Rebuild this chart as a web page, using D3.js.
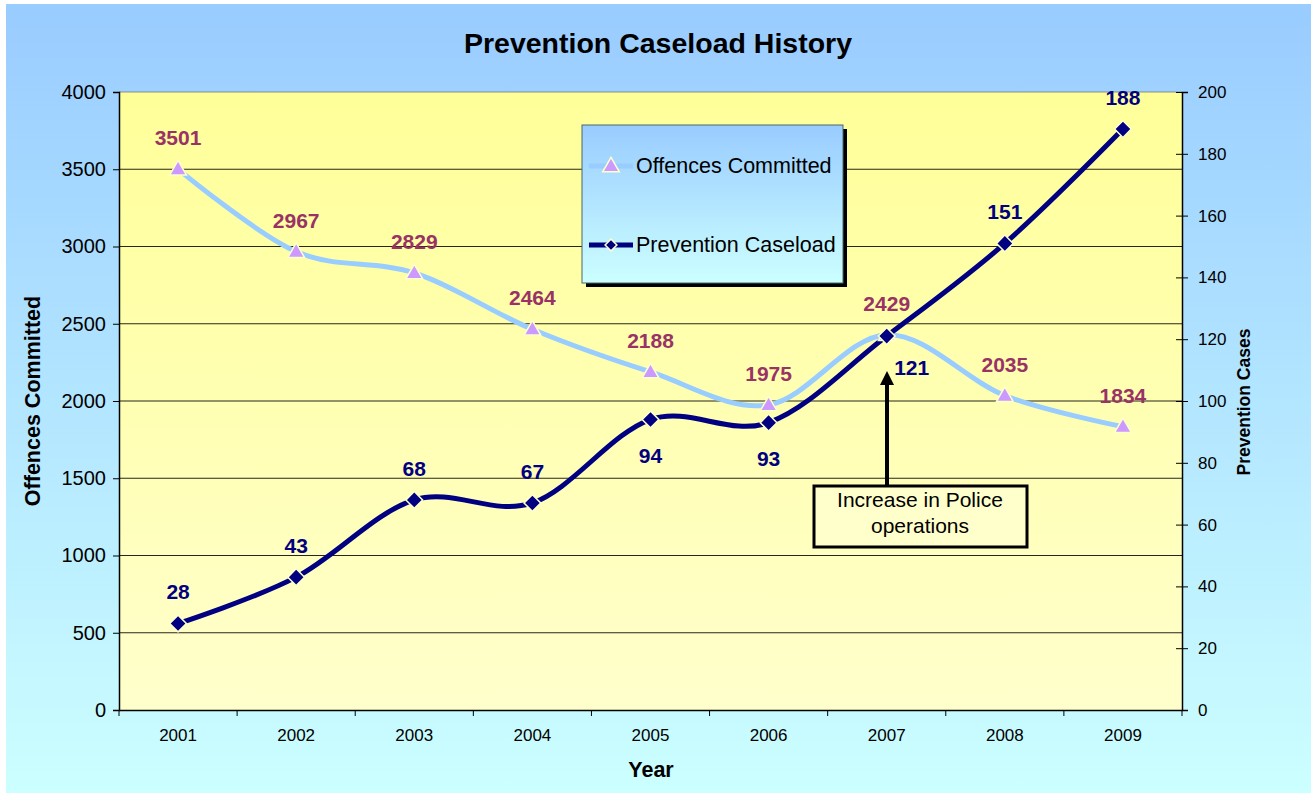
<!DOCTYPE html>
<html>
<head>
<meta charset="utf-8">
<script src="https://cdn.jsdelivr.net/npm/d3@7"></script>
<style>
  body { margin: 0; background: #fff; }
  text { font-family: "Liberation Sans", Arial, sans-serif; }
</style>
</head>
<body>
<div id="chart"></div>
<script>
var years = ["2001", "2002", "2003", "2004", "2005", "2006", "2007", "2008", "2009"];
var offences = [3501, 2967, 2829, 2464, 2188, 1975, 2429, 2035, 1834];
var caseload = [28, 43, 68, 67, 94, 93, 121, 151, 188];
var leftTicks = [0, 500, 1000, 1500, 2000, 2500, 3000, 3500, 4000];
var rightTicks = [0, 20, 40, 60, 80, 100, 120, 140, 160, 180, 200];

var width = 1311;
var height = 793;
var plot = { left: 119, right: 1182, top: 92, bottom: 710 };
var font = "Liberation Sans, Arial, sans-serif";

var svg = d3.select("#chart")
    .append("svg")
    .attr("width", width)
    .attr("height", height);

var defs = svg.append("defs");

function vGradient(id, top, bottom) {
  var g = defs.append("linearGradient")
      .attr("id", id)
      .attr("x1", 0).attr("y1", 0)
      .attr("x2", 0).attr("y2", 1);
  g.append("stop").attr("offset", "0%").attr("stop-color", top);
  g.append("stop").attr("offset", "100%").attr("stop-color", bottom);
}
vGradient("outerBg", "#99ccff", "#ccffff");
vGradient("plotBg", "#ffff99", "#ffffcc");
vGradient("legendBg", "#99ccff", "#ccffff");

svg.append("rect")
    .attr("x", 6).attr("y", 4)
    .attr("width", width - 6).attr("height", height - 4)
    .attr("fill", "url(#outerBg)");

svg.append("rect")
    .attr("x", plot.left).attr("y", plot.top)
    .attr("width", plot.right - plot.left)
    .attr("height", plot.bottom - plot.top)
    .attr("fill", "url(#plotBg)");

var x = d3.scaleBand()
    .domain(years)
    .range([plot.left, plot.right]);

var yLeft = d3.scaleLinear()
    .domain([0, 4000])
    .range([plot.bottom, plot.top]);

var yRight = d3.scaleLinear()
    .domain([0, 200])
    .range([plot.bottom, plot.top]);

function cx(d, i) { return x(years[i]) + x.bandwidth() / 2; }

// gridlines
svg.append("g")
    .selectAll("line")
    .data(leftTicks.slice(1))
    .enter()
    .append("line")
    .attr("x1", plot.left).attr("x2", plot.right)
    .attr("y1", function(d) { return yLeft(d); })
    .attr("y2", function(d) { return yLeft(d); })
    .attr("stroke", function(d) { return d === 4000 ? "#808080" : "#000"; })
    .attr("stroke-width", 1.2)
    .attr("stroke-opacity", 0.85);

// axes
var leftAxis = d3.axisLeft(yLeft).tickValues(leftTicks).tickFormat(d3.format("d")).tickSize(6).tickPadding(7);
var gl = svg.append("g")
    .attr("transform", `translate(${plot.left}, 0)`)
    .call(leftAxis);
gl.attr("font-size", 20).attr("font-family", font);

var rightAxis = d3.axisRight(yRight).tickValues(rightTicks).tickFormat(d3.format("d")).tickSize(6).tickPadding(10);
var gr = svg.append("g")
    .attr("transform", `translate(${plot.right}, 0)`)
    .call(rightAxis);
gr.attr("font-size", 17).attr("font-family", font);
gr.selectAll(".tick line").attr("x1", -6);

var bottomAxis = d3.axisBottom(x).tickSize(0).tickPadding(19);
var gb = svg.append("g")
    .attr("transform", `translate(0, ${plot.bottom})`)
    .call(bottomAxis);
gb.attr("font-size", 17).attr("font-family", font);
gb.append("g")
    .selectAll("line")
    .data(d3.range(years.length + 1))
    .enter()
    .append("line")
    .attr("x1", function(i) { return plot.left + i * x.step(); })
    .attr("x2", function(i) { return plot.left + i * x.step(); })
    .attr("y1", 0).attr("y2", 6)
    .attr("stroke", "#000");

[gl, gr, gb].forEach(function(g) {
  g.select(".domain").attr("stroke", "#000").attr("stroke-width", 1.5);
  g.selectAll(".tick line").attr("stroke", "#000");
  g.selectAll("text").attr("fill", "#000");
});

// lines
var curve = d3.curveCardinal.tension(0);

var offLine = d3.line()
    .x(cx)
    .y(function(d) { return yLeft(d); })
    .curve(curve);

var caseLine = d3.line()
    .x(cx)
    .y(function(d) { return yRight(d); })
    .curve(curve);

svg.append("path")
    .datum(offences)
    .attr("d", offLine)
    .attr("fill", "none")
    .attr("stroke", "#99ccff")
    .attr("stroke-width", 5);

svg.append("path")
    .datum(caseload)
    .attr("d", caseLine)
    .attr("fill", "none")
    .attr("stroke", "#000080")
    .attr("stroke-width", 5);

var triangle = d3.symbol().type(d3.symbolTriangle).size(120);
var diamond = d3.symbol().type(d3.symbolSquare).size(140);

svg.append("g")
    .selectAll("path")
    .data(offences)
    .enter()
    .append("path")
    .attr("d", triangle)
    .attr("transform", function(d, i) { return `translate(${cx(d, i)}, ${yLeft(d) + 1})`; })
    .attr("fill", "#cc99ff")
    .attr("stroke", "#ffffcc")
    .attr("stroke-width", 1.5);

svg.append("g")
    .selectAll("path")
    .data(caseload)
    .enter()
    .append("path")
    .attr("d", diamond)
    .attr("transform", function(d, i) { return `translate(${cx(d, i)}, ${yRight(d)}) rotate(45)`; })
    .attr("fill", "#000080")
    .attr("stroke", "#ffffcc")
    .attr("stroke-width", 1.5);

// data labels
svg.append("g")
    .selectAll("text")
    .data(offences)
    .enter()
    .append("text")
    .attr("x", cx)
    .attr("y", function(d) { return yLeft(d) - 24; })
    .attr("text-anchor", "middle")
    .attr("font-size", 21)
    .attr("font-weight", "bold")
    .attr("fill", "#993366")
    .text(function(d) { return d; });

// label placement for the caseload labels, like the hand-moved ones in the original
function caseDx(i) { return years[i] === "2007" ? 25 : 0; }
function caseDy(i) {
  if (years[i] === "2005" || years[i] === "2006") return 43;
  if (years[i] === "2007") return 39;
  return -24;
}

svg.append("g")
    .selectAll("text")
    .data(caseload)
    .enter()
    .append("text")
    .attr("x", function(d, i) { return cx(d, i) + caseDx(i); })
    .attr("y", function(d, i) { return yRight(d) + caseDy(i); })
    .attr("text-anchor", "middle")
    .attr("font-size", 21)
    .attr("font-weight", "bold")
    .attr("fill", "#000080")
    .text(function(d) { return d; });

// legend
var legend = svg.append("g").attr("transform", "translate(582, 125)");
legend.append("rect")
    .attr("x", 4).attr("y", 4)
    .attr("width", 261).attr("height", 158)
    .attr("fill", "#000");
legend.append("rect")
    .attr("width", 261).attr("height", 158)
    .attr("fill", "url(#legendBg)")
    .attr("stroke", "#4d6666")
    .attr("stroke-width", 1);

legend.append("line")
    .attr("x1", 7).attr("x2", 51)
    .attr("y1", 41).attr("y2", 41)
    .attr("stroke", "#99ccff")
    .attr("stroke-width", 5);
legend.append("path")
    .attr("d", triangle)
    .attr("transform", "translate(29, 42)")
    .attr("fill", "#cc99ff")
    .attr("stroke", "#ffffcc")
    .attr("stroke-width", 1.5);
legend.append("text")
    .attr("x", 54).attr("y", 48)
    .attr("font-size", 21.5)
    .attr("fill", "#000")
    .text("Offences Committed");

legend.append("line")
    .attr("x1", 7).attr("x2", 51)
    .attr("y1", 120).attr("y2", 120)
    .attr("stroke", "#000080")
    .attr("stroke-width", 5);
legend.append("path")
    .attr("d", d3.symbol().type(d3.symbolSquare).size(70))
    .attr("transform", "translate(29, 120) rotate(45)")
    .attr("fill", "#000080")
    .attr("stroke", "#ffffcc")
    .attr("stroke-width", 1.5);
legend.append("text")
    .attr("x", 54).attr("y", 127)
    .attr("font-size", 21.5)
    .attr("fill", "#000")
    .text("Prevention Caseload");

// annotation
var note = svg.append("g");
defs.append("marker")
    .attr("id", "arrow")
    .attr("viewBox", "0 0 10 10")
    .attr("refX", 5).attr("refY", 5)
    .attr("markerWidth", 3.5).attr("markerHeight", 4)
    .attr("markerUnits", "strokeWidth")
    .attr("orient", "auto")
    .append("path")
    .attr("d", "M0,0 L10,5 L0,10 z")
    .attr("fill", "#000");

note.append("line")
    .attr("x1", 887).attr("y1", 486)
    .attr("x2", 887).attr("y2", 378)
    .attr("stroke", "#000")
    .attr("stroke-width", 4)
    .attr("marker-end", "url(#arrow)");

note.append("rect")
    .attr("x", 814).attr("y", 486)
    .attr("width", 213).attr("height", 61)
    .attr("fill", "#ffffcc")
    .attr("stroke", "#000")
    .attr("stroke-width", 3);
note.append("text")
    .attr("x", 920).attr("y", 507)
    .attr("text-anchor", "middle")
    .attr("font-size", 21)
    .attr("fill", "#000")
    .text("Increase in Police");
note.append("text")
    .attr("x", 920).attr("y", 533)
    .attr("text-anchor", "middle")
    .attr("font-size", 21)
    .attr("fill", "#000")
    .text("operations");

// titles
svg.append("text")
    .attr("x", 658).attr("y", 53)
    .attr("text-anchor", "middle")
    .attr("font-size", 28.5)
    .attr("font-weight", "bold")
    .text("Prevention Caseload History");

svg.append("text")
    .attr("transform", "translate(40, 401) rotate(-90)")
    .attr("text-anchor", "middle")
    .attr("font-size", 21.5)
    .attr("font-weight", "bold")
    .text("Offences Committed");

svg.append("text")
    .attr("transform", "translate(1250, 402) rotate(-90)")
    .attr("text-anchor", "middle")
    .attr("font-size", 17.5)
    .attr("font-weight", "bold")
    .text("Prevention Cases");

svg.append("text")
    .attr("x", 651).attr("y", 777)
    .attr("text-anchor", "middle")
    .attr("font-size", 21.5)
    .attr("font-weight", "bold")
    .text("Year");
</script>
</body>
</html>
